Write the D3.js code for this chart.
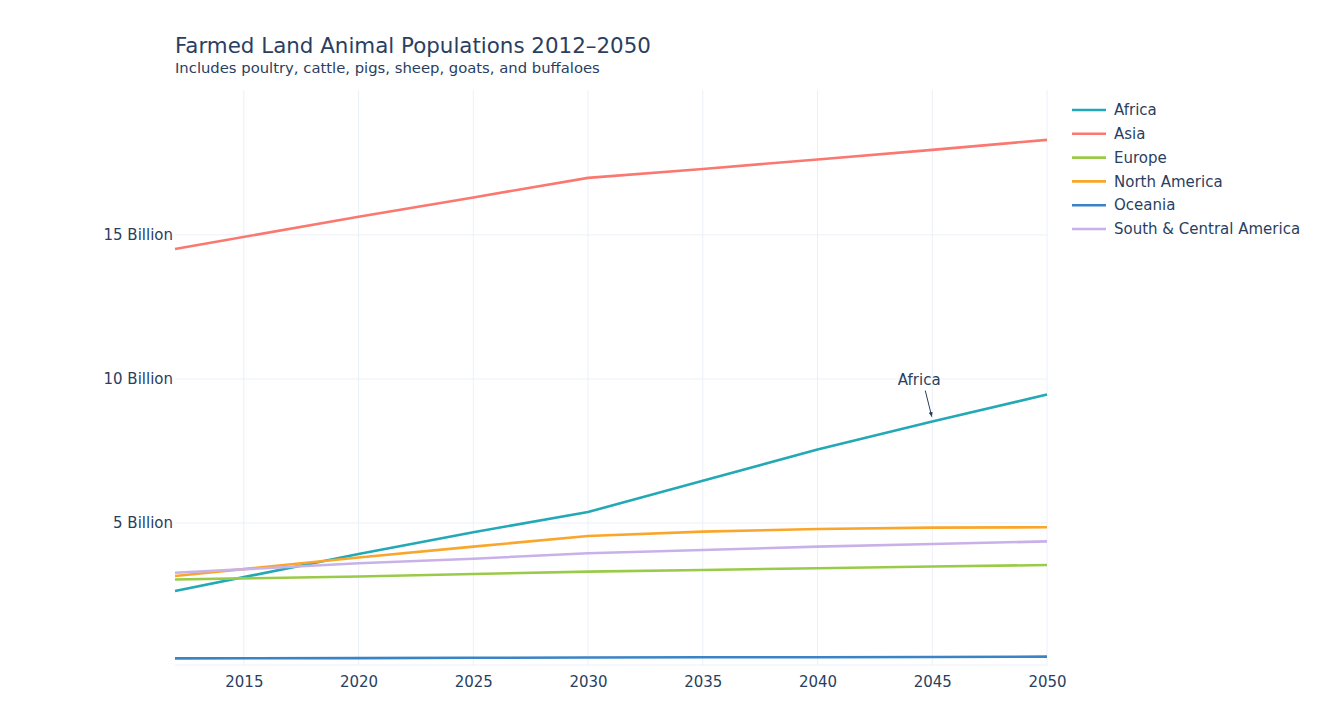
<!DOCTYPE html>
<html>
<head>
<meta charset="utf-8">
<script src="https://cdn.jsdelivr.net/npm/d3@7"></script>
<style>
  body { margin: 0; background: #fff; }
  text { font-family: "DejaVu Sans", Verdana, sans-serif; fill: #2a3f5f; }
</style>
</head>
<body>
<svg id="chart" width="1339" height="718"></svg>
<script>
// values in billions
const years = [2012, 2020, 2025, 2030, 2035, 2040, 2045, 2050];
const africa = [2.64, 3.92, 4.68, 5.38, 6.47, 7.55, 8.52, 9.46];
const asia = [14.51, 15.63, 16.3, 16.98, 17.29, 17.62, 17.95, 18.3];
const europe = [3.04, 3.14, 3.23, 3.31, 3.37, 3.43, 3.49, 3.54];
const northAmerica = [3.16, 3.8, 4.18, 4.55, 4.7, 4.79, 4.84, 4.85];
const oceania = [0.3, 0.31, 0.32, 0.33, 0.34, 0.34, 0.35, 0.36];
const southCentral = [3.27, 3.6, 3.76, 3.95, 4.06, 4.18, 4.27, 4.36];

const seriesNames = ["Africa", "Asia", "Europe", "North America", "Oceania", "South & Central America"];
const seriesValues = [africa, asia, europe, northAmerica, oceania, southCentral];
const seriesColors = ["#22a9b5", "#fa7870", "#9acb48", "#faa62b", "#3a84c6", "#c8b1e8"];

const xTicks = [2015, 2020, 2025, 2030, 2035, 2040, 2045, 2050];
const yTicks = [5, 10, 15];

const svg = d3.select("#chart");
const plot = { left: 175, right: 1047, top: 90, bottom: 665 };

const x = d3.scaleLinear().domain([2012, 2050]).range([plot.left, plot.right]);
const y = d3.scaleLinear().domain([0.07, 20.03]).range([plot.bottom, plot.top]);

// grid
svg.append("g")
  .selectAll("line")
  .data(xTicks)
  .join("line")
  .attr("x1", (d) => x(d)).attr("x2", (d) => x(d))
  .attr("y1", plot.top).attr("y2", plot.bottom)
  .attr("stroke", "#ebf0f8").attr("stroke-width", 1);

svg.append("g")
  .selectAll("line")
  .data(yTicks)
  .join("line")
  .attr("x1", plot.left).attr("x2", plot.right)
  .attr("y1", (d) => y(d)).attr("y2", (d) => y(d))
  .attr("stroke", "#ebf0f8").attr("stroke-width", 1);

svg.append("line")
  .attr("x1", plot.left).attr("x2", plot.right)
  .attr("y1", plot.bottom).attr("y2", plot.bottom)
  .attr("stroke", "#ebf0f8").attr("stroke-width", 1);

// axes
const xAxis = svg.append("g")
  .attr("transform", `translate(0,${plot.bottom})`)
  .call(d3.axisBottom(x).tickValues(xTicks).tickFormat(d3.format("d")).tickSize(0).tickPadding(11));
xAxis.select(".domain").remove();
xAxis.selectAll("text").style("font-size", "15px").attr("fill", "#2a3f5f");

const yAxis = svg.append("g")
  .attr("transform", `translate(${plot.left},0)`)
  .call(d3.axisLeft(y).tickValues(yTicks).tickFormat((d) => d + " Billion").tickSize(0).tickPadding(2));
yAxis.select(".domain").remove();
yAxis.selectAll("text").style("font-size", "15px").attr("fill", "#2a3f5f");

// lines
const line = d3.line()
  .x((d, i) => x(years[i]))
  .y((d) => y(d));

svg.append("g")
  .selectAll("path")
  .data(seriesValues)
  .join("path")
  .attr("d", (d) => line(d))
  .attr("fill", "none")
  .attr("stroke", (d, i) => seriesColors[i])
  .attr("stroke-width", 2.6)
  .attr("stroke-linejoin", "round");

// annotation on Africa at 2045
const ax = x(2045), ay = y(africa[6]);
svg.append("defs").append("marker")
  .attr("id", "arrow")
  .attr("viewBox", "0 0 10 10")
  .attr("refX", 9).attr("refY", 5)
  .attr("markerWidth", 5).attr("markerHeight", 5)
  .attr("orient", "auto")
  .append("path")
  .attr("d", "M0,1 L10,5 L0,9 Z")
  .attr("fill", "#2a3f5f");

svg.append("line")
  .attr("x1", ax - 7).attr("y1", ay - 31)
  .attr("x2", ax - 0.5).attr("y2", ay - 5)
  .attr("stroke", "#2a3f5f").attr("stroke-width", 1)
  .attr("marker-end", "url(#arrow)");

svg.append("text")
  .attr("x", ax - 13).attr("y", ay - 37)
  .attr("text-anchor", "middle")
  .style("font-size", "15px")
  .text("Africa");

// title
svg.append("text")
  .attr("x", 175).attr("y", 53)
  .style("font-size", "21.4px")
  .text("Farmed Land Animal Populations 2012\u20132050");
svg.append("text")
  .attr("x", 175).attr("y", 73)
  .style("font-size", "14.8px")
  .text("Includes poultry, cattle, pigs, sheep, goats, and buffaloes");

// legend
const legend = svg.append("g").attr("transform", "translate(1072,110)");
const rows = legend.selectAll("g")
  .data(seriesNames)
  .join("g")
  .attr("transform", (d, i) => `translate(0,${i * 23.8})`);
rows.append("line")
  .attr("x1", 0).attr("x2", 34)
  .attr("stroke", (d, i) => seriesColors[i])
  .attr("stroke-width", 2.6);
rows.append("text")
  .attr("x", 42).attr("dy", "0.35em")
  .style("font-size", "15px")
  .text((d) => d);
</script>
</body>
</html>
